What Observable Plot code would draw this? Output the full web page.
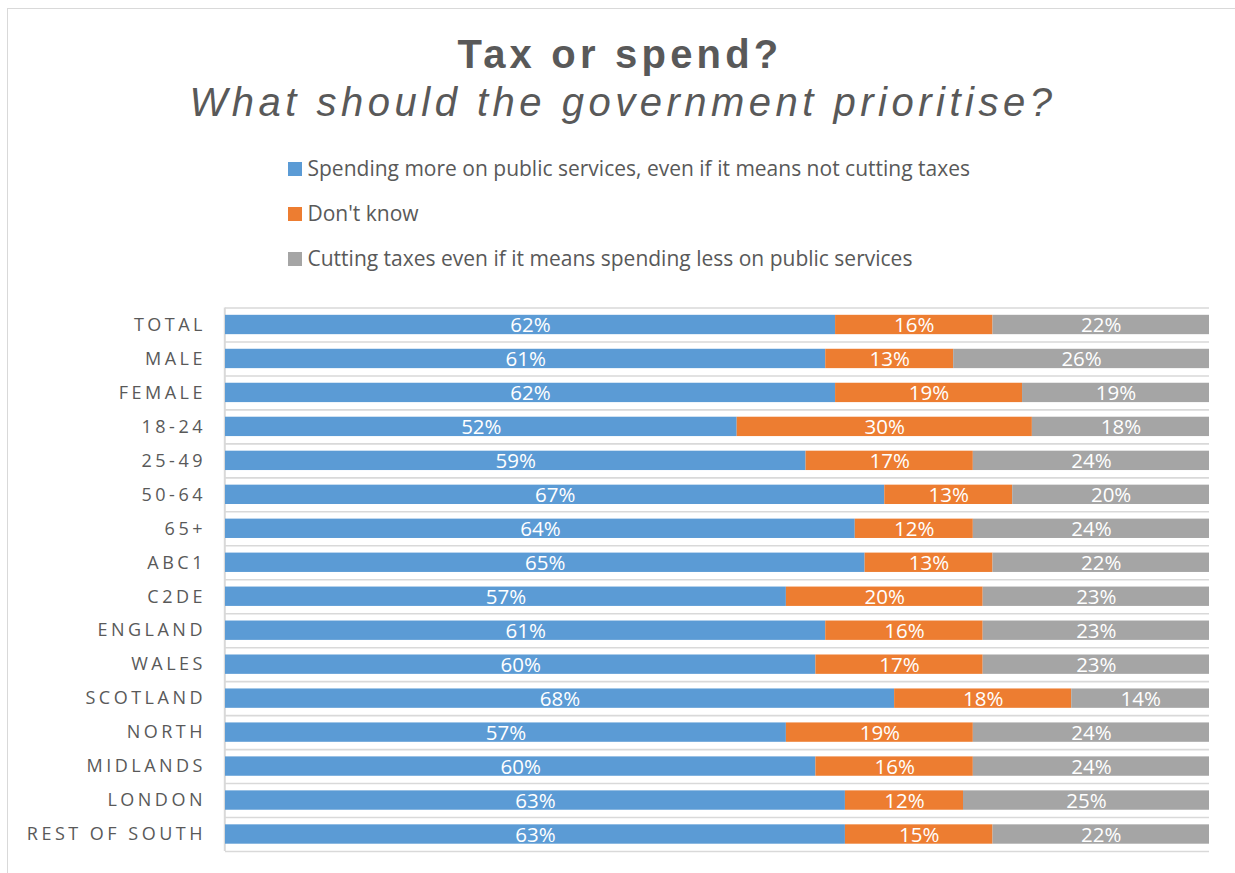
<!DOCTYPE html>
<html>
<head>
<meta charset="utf-8">
<script src="https://cdn.jsdelivr.net/npm/d3@7"></script>
<script src="https://cdn.jsdelivr.net/npm/@observablehq/plot@0.6"></script>
<style>
  html, body { margin: 0; padding: 0; background: #fff; }
  #page { position: relative; width: 1235px; height: 873px; overflow: hidden; background: #fff; }
  #frame { position: absolute; left: 7px; top: 8px; width: 1300px; height: 900px; border-left: 1.5px solid #d9d9d9; border-top: 1.5px solid #d9d9d9; box-sizing: border-box; }
  .title { position: absolute; left: 0; width: 1240px; text-align: center; font-family: "Liberation Sans", Arial, sans-serif; color: #595959; font-size: 40px; line-height: 40px; white-space: nowrap; }
  #t1 { top: 34px; font-weight: bold; letter-spacing: 4.2px; }
  #t2 { top: 82px; font-style: italic; letter-spacing: 4.5px; left: 3px; }
  #legend { position: absolute; left: 288px; top: 156px; font-family: "Open Sans", sans-serif; font-size: 21px; color: #595959; }
  .li { display: flex; align-items: center; height: 24px; line-height: 24px; margin-bottom: 21px; white-space: nowrap; }
  .sw { width: 13.5px; height: 13.5px; margin-right: 6px; margin-top: 2px; flex: none; }
  #chart { position: absolute; left: 0; top: 290px; }
  #chart [aria-label="y-axis tick label"] text { letter-spacing: 3.5px; }
</style>
</head>
<body>
<div id="page">
  <div id="frame"></div>
  <div class="title" id="t1">Tax or spend?</div>
  <div class="title" id="t2">What should the government prioritise?</div>
  <div id="legend"></div>
  <div id="chart"></div>
</div>
<script>
const categories = ["TOTAL","MALE","FEMALE","18-24","25-49","50-64","65+","ABC1","C2DE","ENGLAND","WALES","SCOTLAND","NORTH","MIDLANDS","LONDON","REST OF SOUTH"];
const spendMore = [62,61,62,52,59,67,64,65,57,61,60,68,57,60,63,63];
const dontKnow  = [16,13,19,30,17,13,12,13,20,16,17,18,19,16,12,15];
const cutTaxes  = [22,26,19,18,24,20,24,22,23,23,23,14,24,24,25,22];
const seriesNames = [
  "Spending more on public services, even if it means not cutting taxes",
  "Don't know",
  "Cutting taxes even if it means spending less on public services"
];
const seriesColors = ["#5B9BD5","#ED7D31","#A5A5A5"];

const data = [];
[spendMore, dontKnow, cutTaxes].forEach((vals, si) => {
  vals.forEach((v, i) => data.push({category: categories[i], series: seriesNames[si], value: v}));
});

// legend
const legend = document.getElementById("legend");
seriesNames.forEach((name, i) => {
  const row = document.createElement("div");
  row.className = "li";
  const sw = document.createElement("span");
  sw.className = "sw";
  sw.style.background = seriesColors[i];
  const tx = document.createElement("span");
  tx.textContent = name;
  row.appendChild(sw); row.appendChild(tx);
  legend.appendChild(row);
});

const H = 575, mt = 17.5, mb = 14;
const step = (H - mt - mb) / categories.length;
const barInset = step * 0.215;
const gridStyle = {stroke: "#d9d9d9", strokeWidth: 1.6};

const chart = Plot.plot({
  width: 1235,
  height: H,
  marginLeft: 225,
  marginRight: 26,
  marginTop: mt,
  marginBottom: mb,
  style: {fontFamily: "Open Sans, sans-serif", fontSize: "18px", color: "#595959", background: "transparent"},
  x: {domain: [0, 100], axis: null},
  y: {domain: categories, padding: 0, round: false, axis: null},
  color: {domain: seriesNames, range: seriesColors},
  marks: [
    Plot.ruleY(categories, {y: d => d, dy: -step / 2, ...gridStyle}),
    Plot.ruleY(categories.slice(-1), {y: d => d, dy: step / 2, ...gridStyle}),
    Plot.ruleX([0], {stroke: "#d9d9d9", strokeWidth: 2, dx: -0.7}),
    Plot.barX(data, {x: "value", y: "category", fill: "series", insetTop: barInset, insetBottom: barInset}),
    Plot.text(data, Plot.stackX({x: "value", y: "category", z: "series", text: d => d.value + "%", fill: "white", fontSize: 20.5, dy: 0.5})),
    Plot.axisY({tickSize: 0, tickPadding: 19.5, fontSize: 18, label: null})
  ]
});
document.getElementById("chart").appendChild(chart);
</script>
</body>
</html>
